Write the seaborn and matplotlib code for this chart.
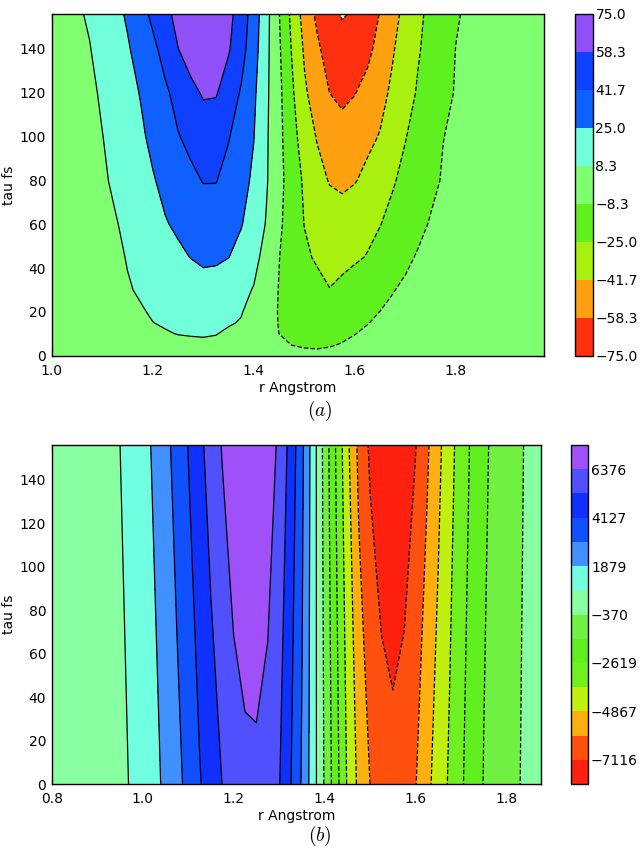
import numpy as np
import matplotlib
matplotlib.use("Agg")
import matplotlib.pyplot as plt
import seaborn as sns

# ---------------- panel (a) data: Z(tau, r) ----------------
r_a = [1.000, 1.025, 1.050, 1.075, 1.100, 1.125, 1.150, 1.175, 1.200, 1.225,
       1.250, 1.275, 1.300, 1.325, 1.350, 1.375, 1.400, 1.425, 1.450, 1.475,
       1.500, 1.525, 1.550, 1.575, 1.600, 1.625, 1.650, 1.675, 1.700, 1.725,
       1.750, 1.775, 1.800, 1.825, 1.850, 1.875, 1.900, 1.925, 1.950, 1.975]
tau_a = [0, 5, 10, 15, 20, 30, 45, 60, 80, 100, 120, 140, 156]
z_a = [
    [0.0, 0.0, 0.1, 0.2, 0.3, 0.5, 0.8, 1.2, 1.7, 2.2, 2.6, 2.9, 3.0, 2.8, 2.3, 1.4, 0.0, -1.6, -3.3, -4.8,
     -6.0, -6.5, -6.2, -5.5, -4.6, -3.7, -2.9, -2.3, -1.8, -1.4, -1.1, -0.9, -0.7, -0.5, -0.4, -0.3, -0.2, -0.2, -0.1, -0.1],
    [0.0, 0.0, 0.1, 0.3, 0.6, 1.0, 1.7, 2.6, 3.6, 4.6, 5.5, 6.1, 6.3, 6.0, 5.0, 3.2, 0.5, -2.6, -5.6, -8.5,
     -9.3, -9.5, -8.9, -7.9, -6.6, -5.3, -4.2, -3.3, -2.6, -2.0, -1.6, -1.3, -1.0, -0.8, -0.6, -0.5, -0.4, -0.3, -0.2, -0.1],
    [0.0, 0.1, 0.2, 0.5, 0.9, 1.6, 2.7, 4.2, 5.8, 7.6, 8.6, 9.0, 9.3, 8.7, 6.6, 2.8, -1.0, -4.9, -8.4, -9.7,
     -11.0, -12.2, -11.4, -10.0, -8.5, -7.0, -5.7, -4.6, -3.7, -3.0, -2.4, -1.9, -1.5, -1.2, -0.9, -0.7, -0.5, -0.4, -0.3, -0.2],
    [0.0, 0.1, 0.3, 0.7, 1.3, 2.2, 3.6, 5.5, 8.2, 9.3, 10.4, 11.4, 11.6, 10.5, 9.3, 7.6, 1.9, -3.9, -8.8, -10.7,
     -12.7, -14.7, -14.4, -12.4, -10.5, -8.6, -6.9, -5.5, -4.4, -3.5, -2.8, -2.2, -1.8, -1.4, -1.1, -0.8, -0.6, -0.4, -0.3, -0.2],
    [0.0, 0.2, 0.5, 1.0, 1.8, 3.0, 4.8, 7.3, 9.4, 10.9, 12.3, 13.8, 14.0, 12.3, 10.7, 9.0, 4.0, -3.2, -9.1, -11.7,
     -14.3, -16.9, -17.6, -15.2, -12.9, -10.5, -8.2, -6.3, -4.9, -3.9, -3.1, -2.5, -2.0, -1.6, -1.2, -0.9, -0.7, -0.5, -0.3, -0.2],
    [0.0, 0.2, 0.6, 1.2, 2.6, 4.8, 7.4, 9.5, 11.6, 13.7, 15.8, 17.6, 19.7, 18.6, 15.0, 11.5, 7.6, -1.0, -8.9, -12.8,
     -16.7, -20.6, -24.6, -21.4, -18.3, -15.1, -12.0, -8.8, -6.5, -5.2, -4.2, -3.4, -2.7, -2.1, -1.6, -1.2, -0.9, -0.6, -0.4, -0.2],
    [0.1, 0.3, 0.8, 1.4, 2.6, 5.7, 9.0, 12.3, 15.7, 19.0, 22.4, 25.3, 27.5, 27.3, 25.3, 19.5, 12.4, 3.5, -8.0, -15.3,
     -22.5, -26.8, -30.0, -29.2, -26.9, -24.3, -19.7, -15.1, -10.5, -7.4, -5.9, -4.8, -3.9, -3.2, -2.6, -2.1, -1.6, -1.2, -0.9, -0.5],
    [0.1, 0.4, 1.0, 2.0, 3.3, 7.2, 11.4, 15.6, 19.9, 24.1, 27.2, 30.1, 33.5, 33.0, 29.0, 25.9, 17.6, 7.3, -5.7, -15.9,
     -25.3, -29.5, -33.9, -35.2, -31.9, -28.6, -25.4, -20.7, -15.9, -11.0, -7.5, -6.1, -5.0, -4.1, -3.3, -2.7, -2.1, -1.6, -1.1, -0.7],
    [0.2, 0.6, 1.3, 3.0, 6.2, 10.6, 15.1, 19.5, 23.9, 28.7, 33.5, 38.4, 42.3, 42.3, 36.5, 30.1, 22.4, 9.7, -3.7, -16.0,
     -27.3, -36.3, -42.6, -44.5, -42.5, -37.8, -32.1, -26.4, -21.1, -16.0, -10.9, -7.4, -6.0, -4.9, -4.0, -3.2, -2.5, -1.9, -1.4, -0.8],
    [0.3, 0.9, 1.8, 3.5, 8.0, 12.8, 17.7, 22.5, 28.2, 34.5, 40.9, 45.4, 49.7, 48.1, 42.6, 34.2, 25.4, 10.2, -3.9, -19.2,
     -32.3, -42.6, -47.8, -53.0, -49.1, -45.2, -40.8, -33.2, -25.6, -19.8, -14.2, -8.5, -6.6, -5.3, -4.3, -3.5, -2.8, -2.1, -1.5, -0.9],
    [0.5, 1.5, 3.0, 5.2, 10.3, 15.3, 20.4, 25.5, 32.4, 39.3, 46.6, 54.0, 60.0, 59.6, 50.2, 40.2, 27.9, 11.2, -4.6, -22.1,
     -39.2, -49.5, -58.4, -61.6, -58.9, -52.9, -46.1, -38.9, -31.0, -23.5, -17.5, -11.4, -7.6, -5.6, -4.6, -3.8, -3.0, -2.3, -1.6, -1.0],
    [1.0, 2.0, 4.0, 7.8, 13.0, 18.2, 23.5, 30.4, 38.1, 47.3, 58.0, 65.6, 68.5, 66.6, 59.8, 47.7, 31.8, 12.3, -6.1, -25.8,
     -43.6, -55.4, -65.5, -70.0, -69.0, -62.5, -52.5, -42.9, -34.5, -26.3, -20.0, -14.0, -8.1, -5.8, -4.8, -4.0, -3.2, -2.4, -1.7, -1.0],
    [2.0, 4.3, 6.65, 9.9, 15.3, 20.7, 26.9, 36.0, 45.0, 54.0, 63.2, 72.5, 74.8, 72.5, 62.9, 50.6, 33.9, 13.4, -7.7, -28.8,
     -47.9, -61.5, -71.1, -76.0, -73.75, -67.9, -57.5, -47.0, -37.2, -28.2, -21.2, -15.5, -9.7, -6.0, -5.0, -4.2, -3.4, -2.6, -1.8, -1.0],
]

# ---------------- panel (b) data: Z at tau = 0 and tau = 156 ----------------
r_b = [0.800, 0.825, 0.850, 0.875, 0.900, 0.925, 0.950, 0.975, 1.000, 1.025,
       1.050, 1.075, 1.100, 1.125, 1.150, 1.175, 1.200, 1.225, 1.250, 1.275,
       1.300, 1.325, 1.350, 1.375, 1.400, 1.425, 1.450, 1.475, 1.500, 1.525,
       1.550, 1.575, 1.600, 1.625, 1.650, 1.675, 1.700, 1.725, 1.750, 1.775,
       1.800, 1.825, 1.850, 1.875]
tau_b = [0, 156]
z_b_tau0 = [0, 20, 50, 100, 200, 330, 466, 849, 1232, 1615,
            2068, 2675, 3330, 4039, 4659, 5266, 5888, 6099, 6128, 5817,
            5315, 4190, 2897, 1233, -483, -2179, -3845, -5132, -6000, -6581,
            -6684, -6638, -6040, -5163, -4356, -3580, -2765, -2078, -1455, -1116,
            -777, -438, -99, 100]
z_b_tau156 = [0, 50, 100, 200, 300, 450, 750, 1156, 1557, 2012,
              2682, 3398, 4159, 4962, 5738, 6450, 7000, 7400, 7500, 7150,
              6106, 4877, 3268, 1316, -778, -2695, -4607, -6263, -7300, -7800,
              -8240, -7696, -7153, -6177, -5148, -4134, -3222, -2408, -1685, -1238,
              -890, -543, -195, 153]

levels_a = np.linspace(-75.0, 75.0, 10)
levels_b = np.linspace(-8240.3, 7500.3, 15)

colors_a = ['#ff3010', '#ffa010', '#a8f010', '#60f020', '#80ff70',
            '#70ffd8', '#1060ff', '#1040ff', '#9050f8']
colors_b = ['#ff2010', '#ff5010', '#ffb010', '#c0f010', '#70f020', '#60f020', '#70f040',
            '#88ffa0', '#70ffe0', '#4090ff', '#1050ff', '#1030ff', '#5050ff', '#a050f8']

# ---------------- style ----------------
sns.set_style("ticks")
plt.rcParams.update({
    "font.family": ["DejaVu Sans"],
    "font.size": 10,
    "mathtext.fontset": "cm",
    "axes.linewidth": 1.0,
    "axes.edgecolor": "black",
    "xtick.direction": "in",
    "ytick.direction": "in",
    "xtick.color": "black",
    "ytick.color": "black",
    "text.color": "black",
    "axes.labelcolor": "black",
})


def minus(s):
    return s.replace('-', '\u2212')


fig = plt.figure(figsize=(6.4, 8.61), dpi=100)
ax_a = fig.add_axes([0.0808, 0.5869, 0.7697, 0.3969])
cax_a = fig.add_axes([0.8984, 0.5869, 0.0277, 0.3969])
ax_b = fig.add_axes([0.0808, 0.0894, 0.7640, 0.3937])
cax_b = fig.add_axes([0.8920, 0.0894, 0.0270, 0.3937])


def panel(ax, cax, r, tau, z, levels, colors, cticks, clabels, xticks):
    R, T = np.meshgrid(np.array(r), np.array(tau))
    Z = np.array(z, dtype=float)
    cs = ax.contourf(R, T, Z, levels=levels, colors=sns.color_palette(colors))
    ax.contour(R, T, Z, levels=levels, colors='k', linewidths=0.9)
    ax.set_xlim(r[0], r[-1])
    ax.set_ylim(tau[0], tau[-1])
    ax.set_xticks(xticks)
    ax.set_xticklabels([f"{v:.1f}" for v in xticks])
    ax.set_yticks(np.arange(0, 141, 20))
    ax.tick_params(direction='in', top=True, right=True, length=4, width=0.8,
                   labelsize=10)
    ax.tick_params(axis='x', pad=6)
    ax.tick_params(axis='y', pad=4)
    ax.set_xlabel("r Angstrom", fontsize=10, labelpad=2)
    ax.set_ylabel("tau fs", fontsize=10, labelpad=3)
    for s in ax.spines.values():
        s.set_visible(True)
        s.set_linewidth(1.0)
        s.set_color('black')
    cb = fig.colorbar(cs, cax=cax, ticks=cticks)
    cb.ax.set_yticklabels([minus(t) for t in clabels])
    cb.ax.tick_params(direction='in', length=4, width=0.8, labelsize=10, pad=2,
                      right=True, left=False)
    cb.outline.set_linewidth(1.0)
    cb.outline.set_edgecolor('black')
    return cs


panel(ax_a, cax_a, r_a, tau_a, z_a, levels_a, colors_a,
      levels_a, [f"{v:.1f}" for v in levels_a], [1.0, 1.2, 1.4, 1.6, 1.8])
panel(ax_b, cax_b, r_b, tau_b, [z_b_tau0, z_b_tau156], levels_b, colors_b,
      levels_b[1::2], [f"{v:.0f}" for v in levels_b[1::2]],
      [0.8, 1.0, 1.2, 1.4, 1.6, 1.8])

fig.text(0.5, 0.5226, r"$(a)$", ha='center', va='center', fontsize=14)
fig.text(0.5, 0.029, r"$(b)$", ha='center', va='center', fontsize=14)

fig.savefig("out.png", dpi=100, facecolor='white')
